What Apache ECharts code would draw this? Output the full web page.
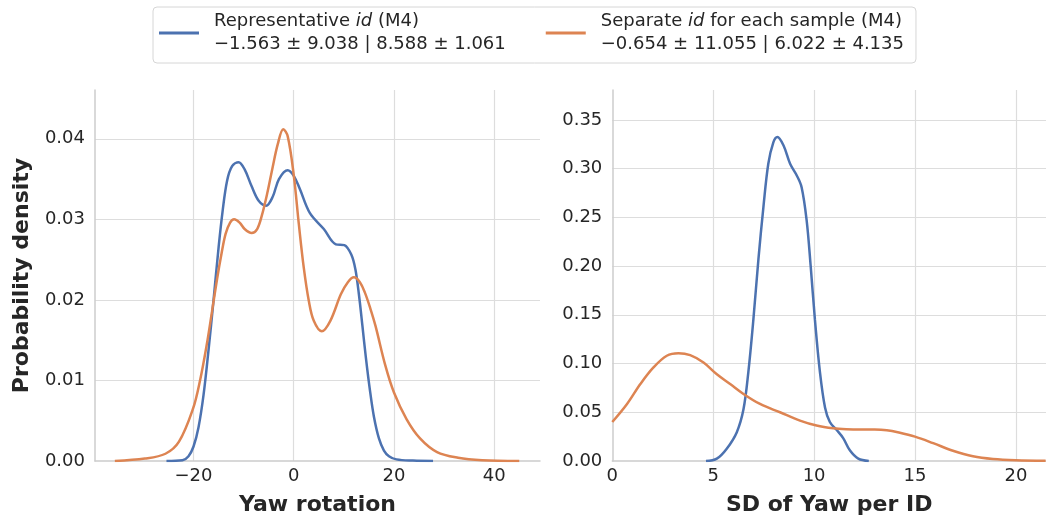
<!DOCTYPE html>
<html>
<head>
<meta charset="utf-8">
<script src="https://cdn.jsdelivr.net/npm/echarts@6/dist/echarts.min.js"></script>
<style>
html,body{margin:0;padding:0;background:#fff;}
#chart{width:1046px;height:521px;}
</style>
</head>
<body>
<div id="chart"></div>
<script>
// ---------- data ----------
const seriesNames = ['Representative', 'Separate'];
const legendTitles = ['Representative {i|id} (M4)', 'Separate {i|id} for each sample (M4)'];
const legendStats = ['\u22121.563 \u00b1 9.038 | 8.588 \u00b1 1.061', '\u22120.654 \u00b1 11.055 | 6.022 \u00b1 4.135'];
const colors = ['#4c72b0', '#dd8452'];

// Left panel: Yaw rotation KDE
const yawRepX = [-25.4, -22.2, -21.0, -20.0, -19.0, -18.0, -17.0, -16.0, -15.0, -14.2, -13.3, -12.3, -11.0, -9.8, -8.4, -7.0, -5.5, -4.2, -2.95, -1.2, 0.0, 1.2, 3.2, 6.0, 8.4, 10.1, 11.5, 12.3, 13.0, 13.7, 14.4, 15.2, 16.0, 17.0, 18.0, 19.0, 20.5, 23.8, 27.8];
const yawRepY = [0.0, 0.0001, 0.0006, 0.0018, 0.0042, 0.0082, 0.0138, 0.0200, 0.0265, 0.0310, 0.0348, 0.0366, 0.0371, 0.0362, 0.0341, 0.0323, 0.0317, 0.0328, 0.0350, 0.0361, 0.0354, 0.0338, 0.0308, 0.0288, 0.0269, 0.0268, 0.0256, 0.0238, 0.0207, 0.0168, 0.0128, 0.0088, 0.0055, 0.0028, 0.0013, 0.0006, 0.0002, 0.00005, 0.0];
const yawSepX = [-35.7, -29.7, -25.6, -22.9, -20.1, -18.7, -17.4, -16.3, -15.3, -14.4, -13.6, -12.7, -11.9, -10.8, -9.8, -8.4, -7.3, -6.4, -5.3, -4.3, -3.2, -2.1, -1.2, 0.0, 1.0, 2.0, 3.0, 4.0, 5.6, 7.3, 9.4, 10.8, 12.0, 13.2, 14.2, 15.3, 16.3, 18.3, 20.0, 22.5, 25.2, 28.6, 32.8, 37.6, 45.0];
const yawSepY = [0.0, 0.0003, 0.0009, 0.0024, 0.0065, 0.0100, 0.0143, 0.0186, 0.0226, 0.0258, 0.0282, 0.0296, 0.0300, 0.0296, 0.0288, 0.0283, 0.0288, 0.0304, 0.0332, 0.0362, 0.0393, 0.0412, 0.0403, 0.0355, 0.0295, 0.0240, 0.0199, 0.0174, 0.0161, 0.0174, 0.0207, 0.0222, 0.0228, 0.0222, 0.0209, 0.0189, 0.0168, 0.0118, 0.0085, 0.0052, 0.0028, 0.0011, 0.0004, 0.0001, 0.0];

// Right panel: SD of Yaw per ID KDE
const sdRepX = [4.64, 5.18, 5.67, 6.17, 6.5, 6.74, 6.99, 7.24, 7.49, 7.73, 7.98, 8.18, 8.48, 8.81, 9.14, 9.38, 9.63, 9.83, 10.04, 10.29, 10.54, 10.78, 11.11, 11.44, 11.77, 12.19, 12.71];
const sdRepY = [0.0, 0.0024, 0.0126, 0.0296, 0.053, 0.091, 0.145, 0.207, 0.261, 0.305, 0.327, 0.3325, 0.324, 0.305, 0.293, 0.281, 0.247, 0.200, 0.145, 0.091, 0.055, 0.040, 0.032, 0.0235, 0.011, 0.0024, 0.0];
const sdSepX = [0.0, 0.73, 1.39, 2.04, 2.7, 3.28, 3.86, 4.52, 5.18, 5.84, 6.5, 7.32, 8.31, 9.3, 10.12, 10.95, 11.6, 12.3, 13.0, 13.6, 14.2, 15.0, 15.9, 16.88, 17.87, 18.86, 20.0, 21.47];
const sdSepY = [0.040, 0.0585, 0.079, 0.096, 0.108, 0.1106, 0.1086, 0.101, 0.089, 0.079, 0.0688, 0.0585, 0.050, 0.0415, 0.0364, 0.0335, 0.0325, 0.0322, 0.0322, 0.0315, 0.0292, 0.0250, 0.0183, 0.0105, 0.0048, 0.0020, 0.0007, 0.0002];

// ticks and labels
const yawTicks = [-20, 0, 20, 40];
const densTicksL = [0, 0.01, 0.02, 0.03, 0.04];
const sdTicks = [0, 5, 10, 15, 20];
const densTicksR = [0, 0.05, 0.10, 0.15, 0.20, 0.25, 0.30, 0.35];
const axisNames = {yawX: 'Yaw rotation', sdX: 'SD of Yaw per ID', densY: 'Probability density'};

// ---------- chart ----------
const zip = (xs, ys) => xs.map((x, i) => [x, ys[i]]);
const inTicks = (v, ticks) => ticks.some(t => Math.abs(t - v) < 1e-9);
const fmtInt = (ticks) => v => inTicks(v, ticks) ? (v < 0 ? '\u2212' + Math.abs(Math.round(v)) : String(Math.round(v))) : '';
const fmtDec = (ticks) => v => inTicks(v, ticks) ? v.toFixed(2) : '';

const FONT = 'DejaVu Sans';
const TXT = '#262626';
const GRID = '#dddddd';
const SPINE = '#cccccc';

function xAxisCfg(gridIndex, min, max, ticks, name) {
  return {
    type: 'value', gridIndex, min, max, splitNumber: 5,
    name, nameLocation: 'middle', nameGap: 33,
    nameTextStyle: {fontFamily: FONT, fontSize: 22, fontWeight: 'bold', color: TXT},
    axisLine: {show: true, onZero: false, lineStyle: {color: SPINE, width: 1.5}},
    axisTick: {show: false},
    axisLabel: {formatter: fmtInt(ticks), fontFamily: FONT, fontSize: 18, color: TXT, margin: 6, showMinLabel: true, showMaxLabel: false},
    splitLine: {show: true, showMinLine: false, showMaxLine: false, lineStyle: {color: GRID, width: 1.2}}
  };
}
function yAxisCfg(gridIndex, max, splitNumber, ticks, name) {
  return {
    type: 'value', gridIndex, min: 0, max, splitNumber,
    name, nameLocation: 'middle', nameGap: 62, nameRotate: 90,
    nameTextStyle: {fontFamily: FONT, fontSize: 22, fontWeight: 'bold', color: TXT},
    axisLine: {show: true, onZero: false, lineStyle: {color: SPINE, width: 1.5}},
    axisTick: {show: false},
    axisLabel: {formatter: fmtDec(ticks), fontFamily: FONT, fontSize: 18, color: TXT, margin: 10, showMaxLabel: false},
    splitLine: {show: true, showMinLine: false, showMaxLine: false, lineStyle: {color: GRID, width: 1.2}}
  };
}
function lineSeries(idx, xAxisIndex, data) {
  return {
    type: 'line', name: seriesNames[idx], xAxisIndex, yAxisIndex: xAxisIndex,
    data, showSymbol: false, symbol: 'none', smooth: 0.35,
    lineStyle: {color: colors[idx], width: 2.5}, itemStyle: {color: colors[idx]},
    z: 2 + idx, animation: false
  };
}

const chart = echarts.init(document.getElementById('chart'), null, {renderer: 'canvas'});
chart.setOption({
  animation: false,
  backgroundColor: '#ffffff',
  textStyle: {fontFamily: FONT},
  legend: {
    data: seriesNames,
    left: 153, top: 7,
    orient: 'horizontal',
    icon: 'rect', itemWidth: 40, itemHeight: 3, itemGap: 40,
    padding: [3, 12, 7, 6],
    borderColor: '#d6d6d6', borderWidth: 1, borderRadius: 4,
    backgroundColor: '#ffffff',
    selectedMode: false,
    formatter: name => {
      const i = seriesNames.indexOf(name);
      return legendTitles[i] + '\n' + legendStats[i];
    },
    textStyle: {
      fontFamily: FONT, fontSize: 18, lineHeight: 23, color: TXT, padding: [0, 0, 0, 10],
      rich: {i: {fontFamily: FONT, fontSize: 18, lineHeight: 23, color: TXT, fontStyle: 'italic'}}
    }
  },
  grid: [
    {left: 95, top: 90, width: 445, bottom: 58.7},
    {left: 612.3, top: 90, right: 0, bottom: 58.7}
  ],
  xAxis: [
    xAxisCfg(0, -39.66, 49.14, yawTicks, axisNames.yawX),
    xAxisCfg(1, 0, 21.49, sdTicks, axisNames.sdX)
  ],
  yAxis: [
    yAxisCfg(0, 0.04606, 5, densTicksL, axisNames.densY),
    yAxisCfg(1, 0.3807, 8, densTicksR, '')
  ],
  series: [
    lineSeries(0, 0, zip(yawRepX, yawRepY)),
    lineSeries(1, 0, zip(yawSepX, yawSepY)),
    lineSeries(0, 1, zip(sdRepX, sdRepY)),
    lineSeries(1, 1, zip(sdSepX, sdSepY))
  ]
});
</script>
</body>
</html>
